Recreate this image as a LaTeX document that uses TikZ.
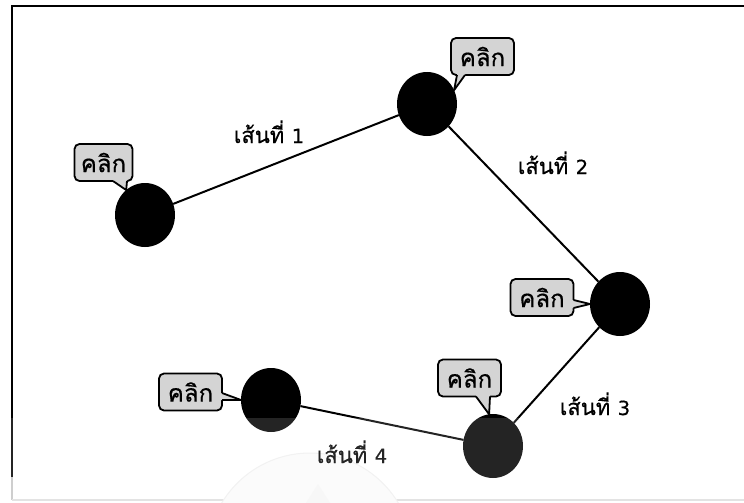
\documentclass[tikz,border=0pt]{standalone}
\usepackage{fontspec}
\newfontfamily\thaifont[Script=Thai,FakeBold=0.6]{Loma}
\newfontfamily\digitfont[FakeBold=0.5]{DejaVu Sans}
\usetikzlibrary{shapes.geometric,calc}
\definecolor{callgray}{RGB}{212,212,212}
\newcommand{\dg}[1]{{\digitfont\fontsize{19.5}{22}\selectfont #1}}
\begin{document}
\begin{tikzpicture}[x=1pt,y=-1pt,
  dot/.style={ellipse,fill=black,minimum width=60pt,minimum height=64pt,inner sep=0pt,outer sep=0pt},
  edge/.style={line width=2pt,black},
  callout/.style={rectangle,rounded corners=5pt,fill=callgray,draw=black,line width=1.8pt,minimum width=63pt,minimum height=37pt,inner sep=0pt,outer sep=0pt,font=\thaifont\fontsize{24}{26}\selectfont},
  tailfill/.style={fill=callgray},
  tailline/.style={draw=black,line width=1.8pt,line join=round},
  lbl/.style={font=\thaifont\fontsize{22}{24}\selectfont,anchor=base,inner sep=0pt}]
\useasboundingbox (0,0) rectangle (744,503);
\clip (0,0) rectangle (744,503);
% frame
\draw[line width=2.2pt] (12,477) -- (12,6) -- (760,6);
\draw[line width=1.5pt,gray!45] (12,477) -- (12,500);
\draw[line width=1.2pt,gray!25] (12,500) -- (760,500);
% watermark
\draw[gray!12,line width=1pt,fill=gray!3] (310,556) circle (103);
\fill[gray!7] (318,484) -- (342,522) -- (294,522) -- cycle;
% nodes
\node[dot] (nA) at (145,215) {};
\node[dot] (nB) at (427,104) {};
\node[dot] (nC) at (620,304) {};
\node[dot] (nD) at (271,400) {};
\node[dot] (nE) at (493,446) {};
% edges
\draw[edge] (nA) -- (nB);
\draw[edge] (nB) -- (nC);
\draw[edge] (nC) -- (nE);
\draw[edge] (nE) -- (nD);
% labels
\node[lbl] (l1) at (269,143) {เส้นที่ \dg{1}};
\node[lbl] (l2) at (553,174) {เส้นที่ \dg{2}};
\node[lbl] (l3) at (595,415) {เส้นที่ \dg{3}};
\node[lbl] (l4) at (352,463) {เส้นที่ \dg{4}};
% callouts
\node[callout,minimum width=58pt] (cA) at (103.5,162.5) {คลิก};
\node[callout] (cB) at (482.5,56.5) {คลิก};
\node[callout] (cC) at (542,297.5) {คลิก};
\node[callout] (cD) at (190.5,392) {คลิก};
\node[callout] (cE) at (469.5,378) {คลิก};
% tails: bottom
\fill[tailfill] ($(cA.south)+(9.5,-3)$) -- ($(cA.south)+(9.5,0)$) -- (nA.127) -- ($(cA.south)+(23.5,0)$) -- ($(cA.south)+(23.5,-3)$) -- cycle;
\draw[tailline] ($(cA.south)+(9.5,0)$) -- (nA.127) -- ($(cA.south)+(23.5,0)$);
\fill[tailfill] ($(cB.south)+(-25.5,-3)$) -- ($(cB.south)+(-25.5,0)$) -- (nB.27) -- ($(cB.south)+(-17.5,0)$) -- ($(cB.south)+(-17.5,-3)$) -- cycle;
\draw[tailline] ($(cB.south)+(-25.5,0)$) -- (nB.27) -- ($(cB.south)+(-17.5,0)$);
\fill[tailfill] ($(cE.south)+(6.5,-3)$) -- ($(cE.south)+(6.5,0)$) -- (nE.97) -- ($(cE.south)+(20.5,0)$) -- ($(cE.south)+(20.5,-3)$) -- cycle;
\draw[tailline] ($(cE.south)+(6.5,0)$) -- (nE.97) -- ($(cE.south)+(20.5,0)$);
% tails: right side
\fill[tailfill] ($(cC.east)+(-3,2.5)$) -- ($(cC.east)+(0,2.5)$) -- (nC.180) -- ($(cC.east)+(0,10.5)$) -- ($(cC.east)+(-3,10.5)$) -- cycle;
\draw[tailline] ($(cC.east)+(0,2.5)$) -- (nC.180) -- ($(cC.east)+(0,10.5)$);
\fill[tailfill] ($(cD.east)+(-3,1)$) -- ($(cD.east)+(0,1)$) -- (nD.180) -- ($(cD.east)+(0,8)$) -- ($(cD.east)+(-3,8)$) -- cycle;
\draw[tailline] ($(cD.east)+(0,1)$) -- (nD.180) -- ($(cD.east)+(0,8)$);
% overlay
\fill[white,opacity=0.14] (0,418) rectangle (744,503);
\end{tikzpicture}
\end{document}
